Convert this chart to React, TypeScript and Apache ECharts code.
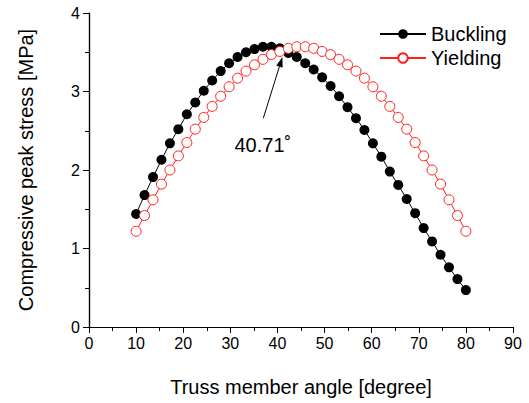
import React, { useEffect, useRef } from "react";
import * as echarts from "echarts";

const angles = [10, 11.79, 13.59, 15.38, 17.18, 18.97, 20.77, 22.56, 24.36, 26.15, 27.95, 29.74, 31.54, 33.33, 35.13, 36.92, 38.72, 40.51, 42.31, 44.1, 45.9, 47.69, 49.49, 51.28, 53.08, 54.87, 56.67, 58.46, 60.26, 62.05, 63.85, 65.64, 67.44, 69.23, 71.03, 72.82, 74.62, 76.41, 78.21, 80];
const buckling = [1.44, 1.68, 1.91, 2.13, 2.34, 2.52, 2.71, 2.86, 3.01, 3.14, 3.26, 3.36, 3.44, 3.5, 3.54, 3.57, 3.57, 3.55, 3.49, 3.44, 3.36, 3.28, 3.18, 3.07, 2.94, 2.8, 2.66, 2.51, 2.34, 2.17, 1.98, 1.81, 1.63, 1.45, 1.26, 1.09, 0.92, 0.76, 0.61, 0.47];
const yielding = [1.22, 1.42, 1.62, 1.82, 2.0, 2.18, 2.35, 2.52, 2.67, 2.81, 2.94, 3.06, 3.17, 3.26, 3.34, 3.41, 3.47, 3.51, 3.55, 3.57, 3.57, 3.55, 3.51, 3.47, 3.41, 3.34, 3.26, 3.17, 3.06, 2.94, 2.81, 2.67, 2.52, 2.35, 2.18, 2.0, 1.82, 1.62, 1.42, 1.22];
const seriesNames = ["Buckling", "Yielding"];
const peakAngleLabel = "40.71˚";
const arrowFrom = [37.0, 2.66];
const arrowTo = [41.0, 3.43];
const labelAt = [36.9, 2.32];

const FONT = "Arial, 'Liberation Sans', sans-serif";
const RED = "#ff1f1f";

export default function App() {
  const ref = useRef<HTMLDivElement>(null);
  useEffect(() => {
    if (!ref.current) return;
    const chart = echarts.init(ref.current, undefined, { renderer: "svg" });
    const axisLine = { show: true, lineStyle: { color: "#000", width: 1.2 } };
    const baseX = {
      type: "value",
      min: 0,
      max: 90,
      interval: 10,
      splitLine: { show: false },
      axisLine,
    };
    const baseY = {
      type: "value",
      min: 0,
      max: 4,
      interval: 1,
      splitLine: { show: false },
      axisLine,
    };
    chart.setOption({
      animation: false,
      backgroundColor: "#fff",
      textStyle: { fontFamily: FONT },
      grid: { left: 89, right: 16, top: 13, bottom: 76, containLabel: false },
      legend: {
        orient: "vertical",
        left: 374,
        top: 19,
        itemWidth: 46,
        itemHeight: 12,
        itemGap: 4,
        data: seriesNames,
        textStyle: { fontSize: 20, color: "#000", fontFamily: FONT, lineHeight: 20 },
      },
      xAxis: [
        {
          ...baseX,
          position: "bottom",
          name: "Truss member angle [degree]",
          nameLocation: "middle",
          nameGap: 50,
          nameTextStyle: { fontSize: 20, color: "#000", fontFamily: FONT },
          axisTick: { show: true, length: 6, lineStyle: { color: "#000" } },
          minorTick: { show: true, splitNumber: 2, length: 3, lineStyle: { color: "#000" } },
          axisLabel: { fontSize: 16, color: "#000", margin: 8, fontFamily: FONT },
        },
        {
          ...baseX,
          position: "top",
          axisTick: { show: true, inside: true, length: 4, lineStyle: { color: "#000" } },
          minorTick: { show: true, splitNumber: 2, length: 4, lineStyle: { color: "#000" } },
          axisLabel: { show: false },
        },
      ],
      yAxis: [
        {
          ...baseY,
          position: "left",
          name: "Compressive peak stress [MPa]",
          nameLocation: "middle",
          nameGap: 53,
          nameTextStyle: { fontSize: 20, color: "#000", fontFamily: FONT },
          axisTick: { show: true, length: 6, lineStyle: { color: "#000" } },
          minorTick: { show: true, splitNumber: 2, length: 3, lineStyle: { color: "#000" } },
          axisLabel: { fontSize: 16, color: "#000", margin: 9, fontFamily: FONT },
        },
        {
          ...baseY,
          position: "right",
          axisTick: { show: true, inside: true, length: 4, lineStyle: { color: "#000" } },
          minorTick: { show: true, splitNumber: 2, length: 4, lineStyle: { color: "#000" } },
          axisLabel: { show: false },
        },
      ],
      series: [
        {
          name: seriesNames[0],
          type: "line",
          xAxisIndex: 0,
          yAxisIndex: 0,
          data: angles.map((a, i) => [a, buckling[i]]),
          symbol: "circle",
          symbolSize: 10,
          lineStyle: { color: "#000", width: 1 },
          itemStyle: { color: "#000", borderColor: "#000", borderWidth: 0 },
          z: 2,
          markPoint: {
            silent: true,
            symbol: "circle",
            symbolSize: 0,
            label: {
              show: true,
              formatter: peakAngleLabel,
              fontSize: 20,
              color: "#000",
              fontFamily: FONT,
            },
            data: [{ coord: labelAt }],
          },
        },
        {
          name: seriesNames[1],
          type: "line",
          xAxisIndex: 0,
          yAxisIndex: 0,
          data: angles.map((a, i) => [a, yielding[i]]),
          symbol: "circle",
          symbolSize: 10,
          lineStyle: { color: RED, width: 1 },
          itemStyle: { color: "#fff", borderColor: RED, borderWidth: 1 },
          z: 3,
        },
      ],
    });

    const p0 = chart.convertToPixel({ gridIndex: 0 }, arrowFrom) as number[];
    const p1 = chart.convertToPixel({ gridIndex: 0 }, arrowTo) as number[];
    const dx = p1[0] - p0[0];
    const dy = p1[1] - p0[1];
    const len = Math.sqrt(dx * dx + dy * dy);
    const ux = dx / len;
    const uy = dy / len;
    const headLen = 9;
    const headHalf = 3;
    const bx = p1[0] - ux * headLen;
    const by = p1[1] - uy * headLen;
    chart.setOption({
      graphic: [
        {
          type: "line",
          z: 100,
          shape: { x1: p0[0], y1: p0[1], x2: bx, y2: by },
          style: { stroke: "#000", lineWidth: 1 },
        },
        {
          type: "polygon",
          z: 100,
          shape: {
            points: [
              [p1[0], p1[1]],
              [bx - uy * headHalf, by + ux * headHalf],
              [bx + uy * headHalf, by - ux * headHalf],
            ],
          },
          style: { fill: "#000", stroke: "#000", lineWidth: 0.5 },
        },
      ],
    });
    return () => chart.dispose();
  }, []);
  return (
    <div
      ref={ref}
      style={{ position: "fixed", left: 0, top: 0, width: 529, height: 403 }}
    />
  );
}
